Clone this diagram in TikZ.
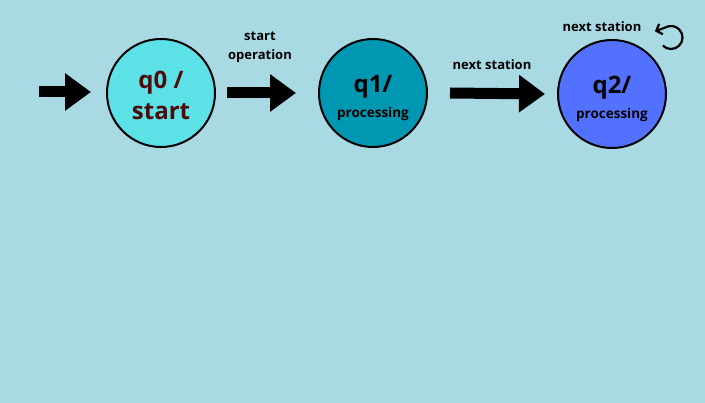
\documentclass[tikz,border=0pt]{standalone}
\usepackage{fontspec}
\setmainfont{Open Sans}
\usetikzlibrary{arrows.meta}
\definecolor{bgblue}{HTML}{A9DAE3}
\definecolor{qzero}{HTML}{5CE1E6}
\definecolor{qone}{HTML}{0097B2}
\definecolor{qtwo}{HTML}{5271FF}
\definecolor{maroon}{HTML}{4D0B0B}

\begin{document}
\begin{tikzpicture}[x=1pt,y=1pt,
  state/.style={draw,circle,line width=2pt,minimum size=108pt,inner sep=0pt,align=center,font=\bfseries},
  blockarrow/.style={line width=11pt,-{Triangle[length=26pt,width=36pt]}},
  lbl/.style={font=\bfseries\fontsize{13}{19}\selectfont,align=center}]
\fill[bgblue] (0,0) rectangle (705,-403);
\useasboundingbox (0,0) rectangle (705,-403);

\node[state,fill=qzero,text=maroon] (q0) at (161,-93) {\fontsize{24}{30}\selectfont\rule{0pt}{22pt}q0 /\\[9pt]\fontsize{24}{30}\selectfont start};
\node[state,fill=qone] (q1) at (373,-93) {\fontsize{24}{26}\selectfont\rule{0pt}{28pt}q1/\\[8pt]\fontsize{13.5}{18}\selectfont processing};
\node[state,fill=qtwo] (q2) at (612,-94) {\fontsize{24}{26}\selectfont\rule{0pt}{28pt}q2/\\[8pt]\fontsize{13.5}{18}\selectfont processing};

\coordinate (init) at (39,-92);
\coordinate (loopc) at (671,-37.5);

\draw[blockarrow] (init) -- ([xshift=-15pt]q0.west |- init);
\draw[blockarrow] ([xshift=11pt]q0.east) -- ([xshift=-22pt]q1.west);
\draw[blockarrow] ([xshift=22pt]q1.east) -- ([xshift=-12pt]q2.west);
\draw[line width=2.2pt,-{Straight Barb[length=5pt,width=11pt]}] ([shift={(225:11.5pt)}]loopc) arc[start angle=225,end angle=480,radius=11.5pt] -- ++(200:11pt);

\node[lbl] (l0) at (260,-47.5) {start\\operation};
\node[lbl] (l1) at (492,-65) {next station};
\node[lbl] (l2) at (602,-27) {next station};
\end{tikzpicture}
\end{document}
